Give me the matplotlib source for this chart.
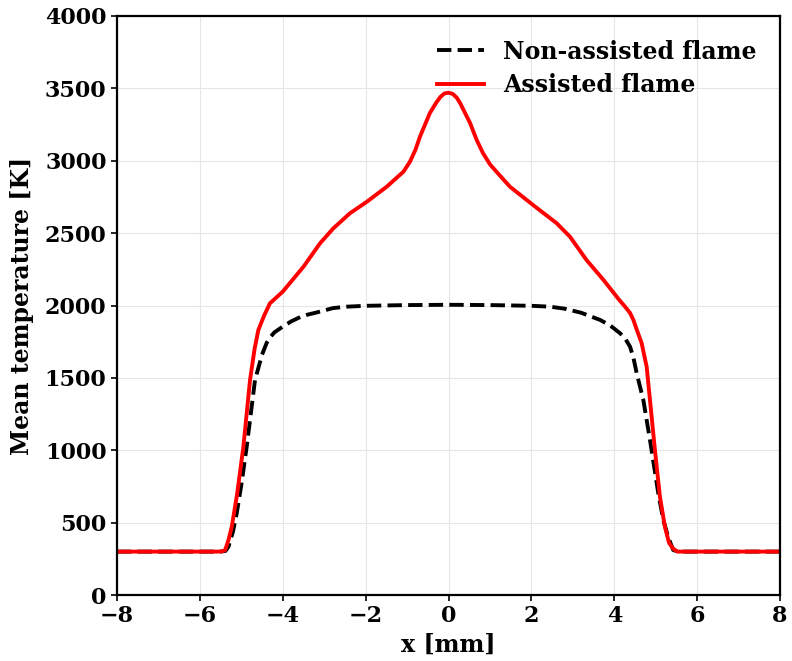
import matplotlib
matplotlib.use("Agg")
import matplotlib.pyplot as plt

# Non-assisted flame (dashed black)
x_non = [-8, -5.5, -5.38, -5.31, -5.2, -5.11, -5.0, -4.87, -4.67, -4.5, -4.39, -4.3, -4.2, -4.0,
         -3.8, -3.58, -3.4, -3.18, -2.79, -2.46, -2.0, -1.0, 0.0, 1.0, 2.0, 2.45, 2.8, 3.2, 3.66,
         3.9, 4.14, 4.27, 4.38, 4.46, 4.54, 4.70, 4.86, 5.06, 5.18, 5.3, 5.42, 5.55, 8]
T_non = [300, 300, 305, 334, 440, 566, 760, 1025, 1485, 1660, 1741, 1782, 1815, 1854,
         1890, 1920, 1937, 1952, 1982, 1992, 1998, 2003, 2005, 2003, 1998, 1992, 1978, 1950, 1900,
         1862, 1808, 1768, 1715, 1640, 1531, 1347, 1071, 703, 520, 400, 311, 300, 300]

# Assisted flame (solid red)
x_ass = [-8, -5.55, -5.45, -5.39, -5.31, -5.23, -5.1, -4.95, -4.79, -4.68, -4.59, -4.45, -4.31,
         -4.0, -3.5, -3.10, -2.78, -2.38, -1.97, -1.49, -1.09, -0.93, -0.8, -0.69, -0.45, -0.3,
         -0.2, -0.1, 0.0, 0.1, 0.2, 0.28, 0.52, 0.68, 0.83, 1.0, 1.2, 1.48, 2.04, 2.61, 2.93,
         3.33, 3.74, 4.12, 4.25, 4.38, 4.46, 4.53, 4.66, 4.78, 4.86, 4.98, 5.10, 5.22, 5.32, 5.42,
         5.52, 8]
T_ass = [300, 300, 303, 311, 380, 472, 700, 1025, 1485, 1700, 1830, 1930, 2015,
         2096, 2268, 2430, 2533, 2637, 2717, 2821, 2924, 2994, 3075, 3166, 3330, 3400,
         3440, 3465, 3470, 3462, 3435, 3398, 3260, 3143, 3053, 2975, 2910, 2821, 2694, 2568, 2475,
         2314, 2176, 2038, 1995, 1948, 1900, 1842, 1739, 1577, 1347, 1000, 679, 472, 360, 320,
         300, 300]

x_ticks = [-8, -6, -4, -2, 0, 2, 4, 6, 8]
y_ticks = [0, 500, 1000, 1500, 2000, 2500, 3000, 3500, 4000]

plt.rcParams['font.family'] = 'DejaVu Serif'
plt.rcParams['font.weight'] = 'bold'

fig = plt.figure(figsize=(7.92, 6.61), dpi=100)
ax = fig.add_axes([0.1477, 0.0998, 0.8373, 0.876])

ax.plot(x_non, T_non, color='black', linestyle='--', linewidth=2.8, label='Non-assisted flame')
ax.plot(x_ass, T_ass, color='red', linestyle='-', linewidth=2.8, label='Assisted flame')

ax.set_xlim(-8, 8)
ax.set_ylim(0, 4000)
ax.set_xticks(x_ticks)
ax.set_yticks(y_ticks)
ax.grid(True, color='#e6e6e6', linewidth=0.8)
ax.set_axisbelow(True)

for s in ax.spines.values():
    s.set_linewidth(1.6)
ax.tick_params(direction='out', length=4, width=1.2)

for lab in ax.get_yticklabels():
    lab.set_fontsize(16)
    lab.set_fontweight('bold')
for lab in ax.get_xticklabels():
    lab.set_fontsize(16)
    lab.set_fontweight('bold')

ax.set_xlabel('x [mm]', fontsize=17, fontweight='bold', labelpad=4)
ax.set_ylabel('Mean temperature [K]', fontsize=17, fontweight='bold', labelpad=8)

leg = ax.legend(loc='upper right', frameon=False, prop={'size': 17, 'weight': 'bold'},
                handlelength=2.0, borderaxespad=0.6, labelspacing=0.4)

fig.savefig('out.png', dpi=100)
